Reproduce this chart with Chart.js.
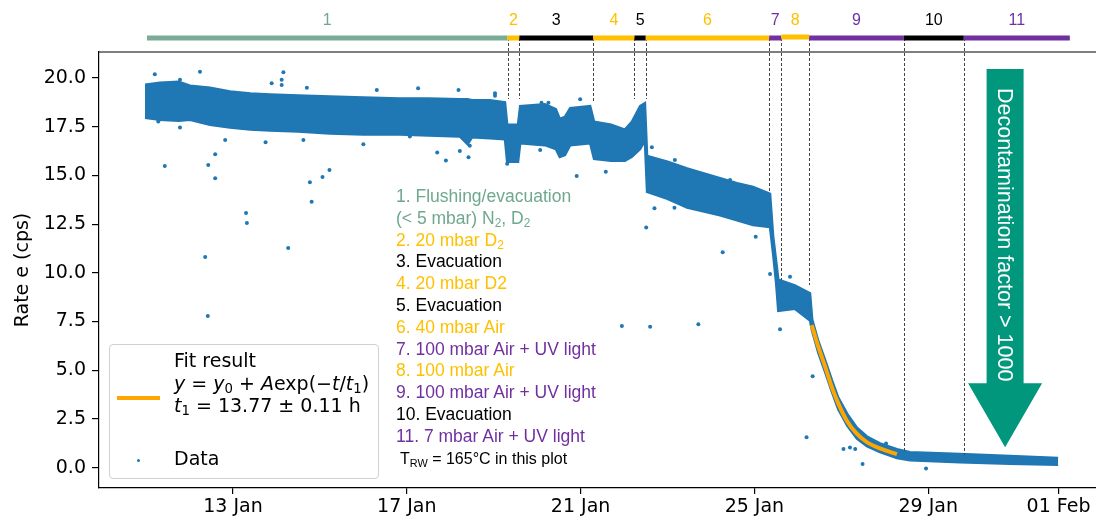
<!DOCTYPE html>
<html>
<head>
<meta charset="utf-8">
<script src="https://cdn.jsdelivr.net/npm/chart.js@4.4.1/dist/chart.umd.min.js"></script>
<style>
  body { margin: 0; width: 1096px; height: 525px; overflow: hidden; background: #fff; position: relative; }
  #wrap { position: absolute; left: 0; top: 0; width: 1110px; height: 525px; }
  .steps { position: absolute; left: 396px; top: 186px; font-family: "Liberation Sans", Arial, sans-serif; font-size: 17.5px; line-height: 21.8px; white-space: nowrap; }
  .steps sub { font-size: 0.68em; vertical-align: -0.25em; line-height: 0; }
  .legend { position: absolute; left: 109px; top: 344px; width: 268px; height: 133px; border: 1px solid #d0d0d0; border-radius: 4px; background: rgba(255,255,255,0.85); font-family: "DejaVu Sans", sans-serif; font-size: 19px; line-height: 22.5px; }
  .legend sub { font-size: 0.7em; vertical-align: -0.25em; line-height: 0; }
  .legend .txt { position: absolute; left: 64px; white-space: nowrap; }
</style>
</head>
<body>
<div id="wrap"><canvas id="rateChart"></canvas></div>

<div class="legend">
  <div style="position:absolute;left:7px;top:51px;width:43px;height:4px;background:#ffa500"></div>
  <div class="txt" style="top:4px">Fit result<br><i>y</i> = <i>y</i><sub>0</sub> + <i>A</i>exp(−<i>t</i>/<i>t</i><sub>1</sub>)<br><i>t</i><sub>1</sub> = 13.77 ± 0.11 h</div>
  <div style="position:absolute;left:27px;top:114px;width:3px;height:3px;border-radius:2px;background:#1f77b4"></div>
  <div class="txt" style="top:102px">Data</div>
</div>

<div class="steps">
  <div style="color:#6fa88f">1. Flushing/evacuation</div>
  <div style="color:#6fa88f">(&lt; 5 mbar) N<sub>2</sub>, D<sub>2</sub></div>
  <div style="color:#ffc000">2. 20 mbar D<sub>2</sub></div>
  <div style="color:#000">3. Evacuation</div>
  <div style="color:#ffc000">4. 20 mbar D2</div>
  <div style="color:#000">5. Evacuation</div>
  <div style="color:#ffc000">6. 40 mbar Air</div>
  <div style="color:#7030a0">7. 100 mbar Air + UV light</div>
  <div style="color:#ffc000">8. 100 mbar Air</div>
  <div style="color:#7030a0">9. 100 mbar Air + UV light</div>
  <div style="color:#000">10. Evacuation</div>
  <div style="color:#7030a0">11. 7 mbar Air + UV light</div>
  <div style="color:#000;font-size:16px;margin-left:4px">T<sub>RW</sub> = 165°C in this plot</div>
</div>

<script>
// time in days of January (32 = 01 Feb)
const xTickDays = [13, 17, 21, 25, 29, 32];
const xTickLabels = ['13 Jan', '17 Jan', '21 Jan', '25 Jan', '29 Jan', '01 Feb'];
const yTicks = [0, 2.5, 5, 7.5, 10, 12.5, 15, 17.5, 20];

// dense part of the measured rate: upper / lower edge of the point cloud
const bandDays = [10.975, 11.32, 11.75, 12.01, 12.47, 12.93, 13.4, 13.85, 14.5, 15.23, 16.0, 16.84, 17.5, 18.22, 18.4, 18.5, 18.91, 19.26, 19.31, 19.56, 19.61, 20.18, 20.43, 20.52, 20.64, 20.76, 21.22, 21.31, 21.7, 22.02, 22.18, 22.37, 22.48, 22.53, 23.0, 23.45, 24.21, 24.6, 24.97, 25.36, 25.43, 25.50, 25.55, 25.93, 26.28, 26.33, 26.47, 26.63, 26.79, 26.93, 27.14, 27.36, 27.59, 27.89, 28.28, 28.58, 29.73, 30.88, 31.99];
const bandHigh = [19.65, 19.75, 19.8, 19.6, 19.5, 19.3, 19.2, 19.15, 19.1, 19.05, 19.0, 18.95, 18.95, 18.9, 18.9, 18.85, 18.85, 18.75, 17.6, 17.6, 18.55, 18.65, 18.4, 17.9, 18.0, 18.45, 18.55, 17.75, 17.6, 17.35, 17.75, 18.55, 18.7, 16.0, 15.7, 15.35, 14.85, 14.6, 14.4, 14.05, 11.9, 10.6, 9.65, 9.35, 8.95, 7.6, 6.5, 5.5, 4.45, 3.6, 2.75, 2.05, 1.6, 1.25, 0.95, 0.8, 0.7, 0.6, 0.5];
const bandLow = [17.95, 17.85, 17.8, 17.85, 17.6, 17.45, 17.35, 17.3, 17.25, 17.15, 17.1, 17.1, 17.05, 17.0, 16.6, 16.95, 16.9, 16.85, 15.7, 15.7, 16.65, 16.55, 16.35, 15.95, 16.05, 16.55, 16.65, 15.85, 15.75, 15.75, 15.95, 16.35, 16.8, 14.15, 13.8, 13.35, 12.95, 12.7, 12.45, 12.35, 11.0, 9.5, 8.05, 8.15, 7.55, 7.0, 5.9, 4.9, 3.85, 3.0, 2.15, 1.5, 1.1, 0.8, 0.5, 0.38, 0.28, 0.2, 0.15];

// single points outside / on the edge of the cloud
const pointDays = [11.43, 12.43, 12.59, 12.59, 13.75, 14.77, 14.81, 15.06, 15.22, 17.70, 17.90, 18.22, 18.42, 19.31, 13.30, 13.32, 14.27, 12.36, 12.42, 20.91, 21.95, 22.51, 22.60, 22.70, 23.71, 24.27, 25.03, 25.36, 25.59, 25.82, 26.34, 26.20, 27.05, 27.20, 27.32, 27.49, 28.03, 28.95, 11.20, 12.24, 14.16, 14.12, 14.12, 13.89, 11.78, 16.31, 17.26, 18.19, 19.03, 14.70, 11.28, 11.78, 12.82, 16.00, 14.62, 17.07, 18.45, 19.03, 20.10, 20.26, 20.99, 21.58, 22.43, 20.07, 22.64, 23.17, 24.44, 23.16];
const pointRates = [15.48, 15.53, 16.08, 14.85, 16.70, 14.65, 13.65, 14.92, 15.28, 16.17, 15.76, 16.25, 15.93, 15.59, 13.07, 12.56, 11.27, 10.81, 7.78, 14.97, 7.27, 12.32, 7.23, 13.31, 7.36, 11.05, 11.85, 9.94, 7.10, 9.80, 4.70, 1.56, 0.96, 1.04, 0.96, 0.19, 1.24, -0.04, 20.19, 20.32, 20.29, 19.90, 19.64, 19.73, 19.90, 19.38, 19.47, 19.38, 19.09, 19.50, 17.76, 17.45, 16.82, 16.60, 16.82, 16.99, 16.52, 19.21, 18.73, 18.73, 18.91, 15.19, 18.53, 16.30, 16.44, 15.79, 14.76, 13.34];

// exponential fit curve
const fitDays = [26.32, 26.47, 26.63, 26.78, 26.93, 27.12, 27.35, 27.58, 27.89, 28.28];
const fitRates = [7.32, 6.21, 5.18, 4.15, 3.30, 2.44, 1.76, 1.33, 0.99, 0.70];

// experiment phases
const phaseEdges = [11.02, 19.32, 19.59, 21.29, 22.24, 22.50, 25.34, 25.62, 26.26, 28.44, 29.82, 32.26];
const phaseLabels = ['1', '2', '3', '4', '5', '6', '7', '8', '9', '10', '11'];
const phaseBarColors = ['#79ab97', '#ffc000', '#000000', '#ffc000', '#000000', '#ffc000', '#7030a0', '#ffc000', '#7030a0', '#000000', '#7030a0'];
const phaseTextColors = ['#6fa88f', '#ffc000', '#000000', '#ffc000', '#000000', '#ffc000', '#7030a0', '#ffc000', '#7030a0', '#000000', '#7030a0'];
const dashEnds = [18.92, 18.92, 18.8, 18.92, 18.92, 14.1, 9.63, 9.37, 0.8, 0.65];

const blue = '#1f77b4';

const overlayPlugin = {
    id: 'overlay',
    afterDraw(chart) {
        const { ctx, chartArea, scales: { x, y } } = chart;
        ctx.save();
        // top spine
        ctx.strokeStyle = '#000';
        ctx.lineWidth = 1.2;
        ctx.beginPath();
        ctx.moveTo(chartArea.left, chartArea.top);
        ctx.lineTo(chartArea.right, chartArea.top);
        ctx.stroke();

        const barY = chartArea.top - 14;
        // dashed phase separators
        ctx.strokeStyle = '#444';
        ctx.lineWidth = 1;
        ctx.setLineDash([3, 2]);
        for (let i = 1; i < phaseEdges.length - 1; i++) {
            const px = Math.round(x.getPixelForValue(phaseEdges[i])) + 0.5;
            ctx.beginPath();
            ctx.moveTo(px, barY);
            ctx.lineTo(px, y.getPixelForValue(dashEnds[i - 1]));
            ctx.stroke();
        }
        ctx.setLineDash([]);

        // phase bar + numbers
        ctx.lineWidth = 5;
        ctx.font = '16px "Liberation Sans", Arial, sans-serif';
        ctx.textAlign = 'center';
        ctx.textBaseline = 'middle';
        for (let i = 0; i < phaseLabels.length; i++) {
            const x0 = x.getPixelForValue(phaseEdges[i]);
            const x1 = x.getPixelForValue(phaseEdges[i + 1]);
            ctx.strokeStyle = phaseBarColors[i];
            ctx.beginPath();
            ctx.moveTo(x0, i === 7 ? barY - 1 : barY);
            ctx.lineTo(x1, i === 7 ? barY - 1 : barY);
            ctx.stroke();
            ctx.fillStyle = phaseTextColors[i];
            ctx.fillText(phaseLabels[i], (x0 + x1) / 2, barY - 17);
        }

        // decontamination arrow
        const cx = x.getPixelForValue(30.77);
        const top = y.getPixelForValue(20.46);
        const headY = y.getPixelForValue(4.34);
        const tipY = y.getPixelForValue(1.05);
        ctx.fillStyle = '#00977d';
        ctx.beginPath();
        ctx.moveTo(cx - 18.5, top);
        ctx.lineTo(cx + 18.5, top);
        ctx.lineTo(cx + 18.5, headY);
        ctx.lineTo(cx + 37, headY);
        ctx.lineTo(cx, tipY);
        ctx.lineTo(cx - 37, headY);
        ctx.lineTo(cx - 18.5, headY);
        ctx.closePath();
        ctx.fill();
        ctx.translate(cx, top + 19);
        ctx.rotate(Math.PI / 2);
        ctx.fillStyle = '#fff';
        ctx.font = '21.5px "Liberation Sans", Arial, sans-serif';
        ctx.textAlign = 'left';
        ctx.fillText('Decontamination factor > 1000', 0, 1);
        ctx.restore();
    }
};

const tickFont = { family: '"DejaVu Sans", sans-serif', size: 19 };

new Chart(document.getElementById('rateChart'), {
    type: 'scatter',
    data: {
        datasets: [
            {
                label: 'fit',
                type: 'line',
                data: fitDays.map((d, i) => ({ x: d, y: fitRates[i] })),
                borderColor: '#ffa500',
                borderWidth: 4,
                pointRadius: 0,
                cubicInterpolationMode: 'monotone',
                fill: false
            },
            {
                label: 'Data',
                data: pointDays.map((d, i) => ({ x: d, y: pointRates[i] })),
                backgroundColor: blue,
                borderWidth: 0,
                pointRadius: 2
            },
            {
                label: 'band high',
                type: 'line',
                data: bandDays.map((d, i) => ({ x: d, y: bandHigh[i] })),
                borderColor: blue,
                borderWidth: 2.5,
                backgroundColor: blue,
                pointRadius: 0,
                fill: '+1'
            },
            {
                label: 'band low',
                type: 'line',
                data: bandDays.map((d, i) => ({ x: d, y: bandLow[i] })),
                borderColor: blue,
                borderWidth: 2.5,
                pointRadius: 0,
                fill: false
            }
        ]
    },
    options: {
        responsive: true,
        maintainAspectRatio: false,
        animation: false,
        layout: { padding: { top: 52, right: 10, left: 0, bottom: 0 } },
        plugins: {
            legend: { display: false },
            tooltip: { enabled: false }
        },
        scales: {
            x: {
                type: 'linear',
                min: 9.916,
                max: 32.954,
                afterFit: (s) => { s.height = 37; },
                afterBuildTicks: (s) => { s.ticks = xTickDays.map(v => ({ value: v })); },
                ticks: {
                    color: '#000',
                    font: tickFont,
                    padding: 2,
                    maxRotation: 0,
                    callback: (v) => xTickLabels[xTickDays.indexOf(v)]
                },
                grid: { drawOnChartArea: false, drawTicks: true, tickLength: 6, color: '#000', lineWidth: 1.2 },
                border: { color: '#000', width: 1.2 }
            },
            y: {
                min: -1.04,
                max: 21.33,
                afterFit: (s) => { s.width = 99; },
                afterBuildTicks: (s) => { s.ticks = yTicks.map(v => ({ value: v })); },
                ticks: {
                    color: '#000',
                    font: tickFont,
                    padding: 6,
                    callback: (v) => v.toFixed(1)
                },
                grid: { drawOnChartArea: false, drawTicks: true, tickLength: 7, color: '#000', lineWidth: 1.2 },
                border: { color: '#000', width: 1.2 },
                title: {
                    display: true,
                    text: 'Rate e (cps)',
                    color: '#000',
                    font: { family: '"DejaVu Sans", sans-serif', size: 19 },
                    padding: { top: 12, bottom: 0 }
                }
            }
        }
    },
    plugins: [overlayPlugin]
});
</script>
</body>
</html>
